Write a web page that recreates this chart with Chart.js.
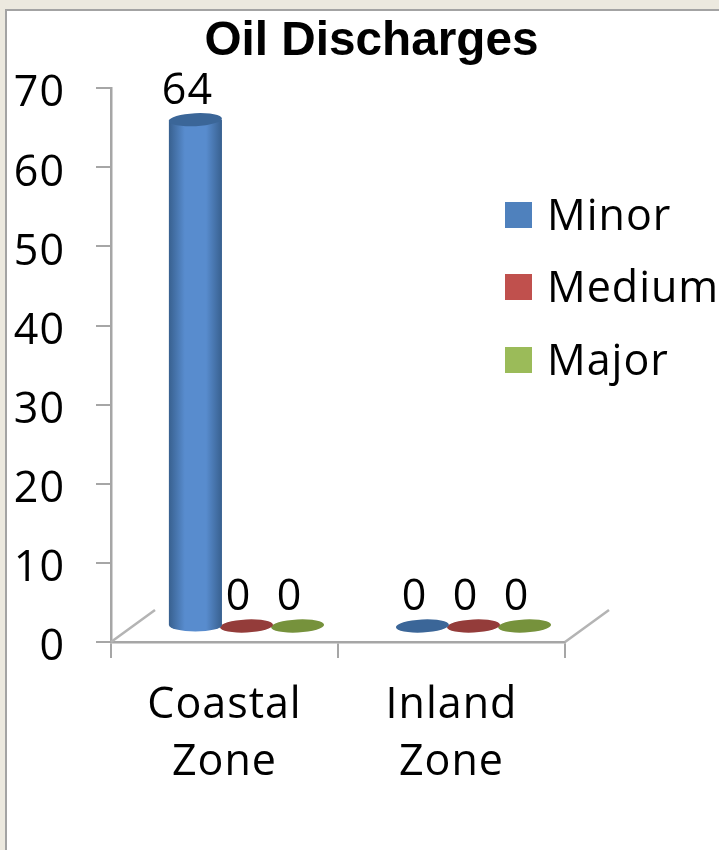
<!DOCTYPE html>
<html>
<head>
<meta charset="utf-8">
<title>Oil Discharges</title>
<script src="https://cdn.jsdelivr.net/npm/chart.js@4"></script>
<style>
  html,body{margin:0;padding:0;width:719px;height:850px;overflow:hidden;background:#ece9df;}
  #frame{position:absolute;left:5px;top:9px;width:720px;height:850px;background:#fff;border:2px solid #a3a3a3;}
  #c{position:absolute;left:0;top:0;}
</style>
</head>
<body>
<div id="frame"></div>
<canvas id="c" width="719" height="850"></canvas>
<script>
const categories = [["Coastal","Zone"],["Inland","Zone"]];
const seriesNames = ["Minor","Medium","Major"];
const minor  = [64,0];
const medium = [0,0];
const major  = [0,0];
const titleText = "Oil Discharges";

// legend colour, darker cap colour, side edge colour, side centre colour
const swatch = ["#4f81bd","#c0504d","#9bbb59"];
const capCol = ["#3b6698","#943c3a","#76923c"];
const edgeCol = ["#38608f","#8a3533","#6d8838"];
const midCol = ["#588cce","#cf5a56","#a8ca62"];

const FONT = '"Open Sans"';
const FONT_SIZE = 43;
const SPACING = "1px";
const DEPTH_X = 22, DEPTH_Y = 16; // fake 3d shift from front plane to back
const AXIS_COL = "#a6a6a6";

function ellipse(ctx,x,y,rx,ry,col){
  ctx.beginPath();
  ctx.ellipse(x,y,rx,ry,-0.05,0,Math.PI*2);
  ctx.fillStyle=col;
  ctx.fill();
}

const cylinders = {
  id:"cylinders",
  beforeLayout(chart){
    chart.ctx.letterSpacing = SPACING;
    // title has no tracking and is centred further right than the plot
    const tb = chart.titleBlock;
    if(tb && !tb._wrapped){
      const orig = tb.draw.bind(tb);
      tb.draw = function(){
        const ctx = chart.ctx;
        ctx.save();
        ctx.letterSpacing = "0px";
        ctx.translate(89,1);
        orig();
        ctx.restore();
      };
      tb._wrapped = true;
    }
  },
  beforeDatasetDraw(chart,args){
    const ctx = chart.ctx;
    const i = args.index;
    const meta = args.meta;
    meta.data.forEach(bar=>{
      const cx = bar.x+DEPTH_X;
      const top = bar.y-DEPTH_Y;
      const bottom = bar.base-DEPTH_Y;
      const rx = bar.width/2+1;
      ctx.save();
      if(bottom-top>1){
        const ry = 6.5;
        const g = ctx.createLinearGradient(cx-rx,0,cx+rx,0);
        g.addColorStop(0,edgeCol[i]);
        g.addColorStop(0.3,midCol[i]);
        g.addColorStop(0.7,midCol[i]);
        g.addColorStop(1,edgeCol[i]);
        ctx.beginPath();
        ctx.moveTo(cx-rx,top);
        ctx.lineTo(cx-rx,bottom);
        ctx.ellipse(cx,bottom,rx,ry,0,Math.PI,0,true);
        ctx.lineTo(cx+rx,top);
        ctx.closePath();
        ctx.fillStyle=g;
        ctx.fill();
        ellipse(ctx,cx,top,rx,ry,capCol[i]);
      } else {
        ellipse(ctx,cx,top,rx,6.5,capCol[i]);
      }
      ctx.restore();
    });
    return false;
  },
  afterDatasetsDraw(chart){
    const ctx = chart.ctx;
    const y = chart.scales.y, x = chart.scales.x;
    ctx.save();
    // floor edges going back
    ctx.strokeStyle="#b4b4b4";
    ctx.lineWidth=2.5;
    [x.left,x.right].forEach(px=>{
      ctx.beginPath();
      ctx.moveTo(px,y.bottom);
      ctx.lineTo(px+44,y.bottom-32);
      ctx.stroke();
    });
    // value labels
    ctx.font=FONT_SIZE+"px "+FONT;
    ctx.fillStyle="#000";
    ctx.textAlign="center";
    ctx.textBaseline="middle";
    chart.data.datasets.forEach((ds,i)=>{
      chart.getDatasetMeta(i).data.forEach((bar,j)=>{
        ctx.fillText(String(ds.data[j]),bar.x+DEPTH_X-8,bar.y-44);
      });
    });
    // legend, sits over the plot like the original
    ctx.textAlign="left";
    const rows=[215,287,360];
    chart.data.datasets.forEach((ds,i)=>{
      ctx.fillStyle=swatch[i];
      ctx.fillRect(505,rows[i]-13,27,26);
      ctx.fillStyle="#000";
      ctx.fillText(ds.label,547,rows[i]+3);
    });
    ctx.restore();
  }
};

new Chart(document.getElementById("c"),{
  type:"bar",
  data:{
    labels:categories,
    datasets:[
      {label:seriesNames[0],data:minor,backgroundColor:swatch[0]},
      {label:seriesNames[1],data:medium,backgroundColor:swatch[1]},
      {label:seriesNames[2],data:major,backgroundColor:swatch[2]}
    ]
  },
  options:{
    responsive:false,
    animation:false,
    barPercentage:1,
    categoryPercentage:0.675,
    layout:{padding:{top:0,left:0,right:154,bottom:0}},
    plugins:{
      legend:{display:false},
      tooltip:{enabled:false},
      title:{
        display:true,
        text:titleText,
        color:"#000",
        font:{family:"Liberation Sans",size:47.7,weight:"bold",lineHeight:1.2},
        padding:{top:12,bottom:19}
      }
    },
    scales:{
      x:{
        afterFit(s){s.height=208;},
        border:{color:AXIS_COL,width:2.5},
        grid:{display:true,drawOnChartArea:false,color:AXIS_COL,lineWidth:2,tickLength:16,offset:true},
        ticks:{color:"#000",font:{family:FONT,size:FONT_SIZE,lineHeight:1.33},padding:19,maxRotation:0,autoSkip:false}
      },
      y:{
        min:0,max:70,
        afterFit(s){s.width=111;},
        border:{color:AXIS_COL,width:2.5},
        grid:{display:true,drawOnChartArea:false,color:AXIS_COL,lineWidth:2,tickLength:15},
        ticks:{color:"#000",font:{family:FONT,size:FONT_SIZE},stepSize:10,padding:31,labelOffset:6}
      }
    }
  },
  plugins:[cylinders]
});
</script>
</body>
</html>
